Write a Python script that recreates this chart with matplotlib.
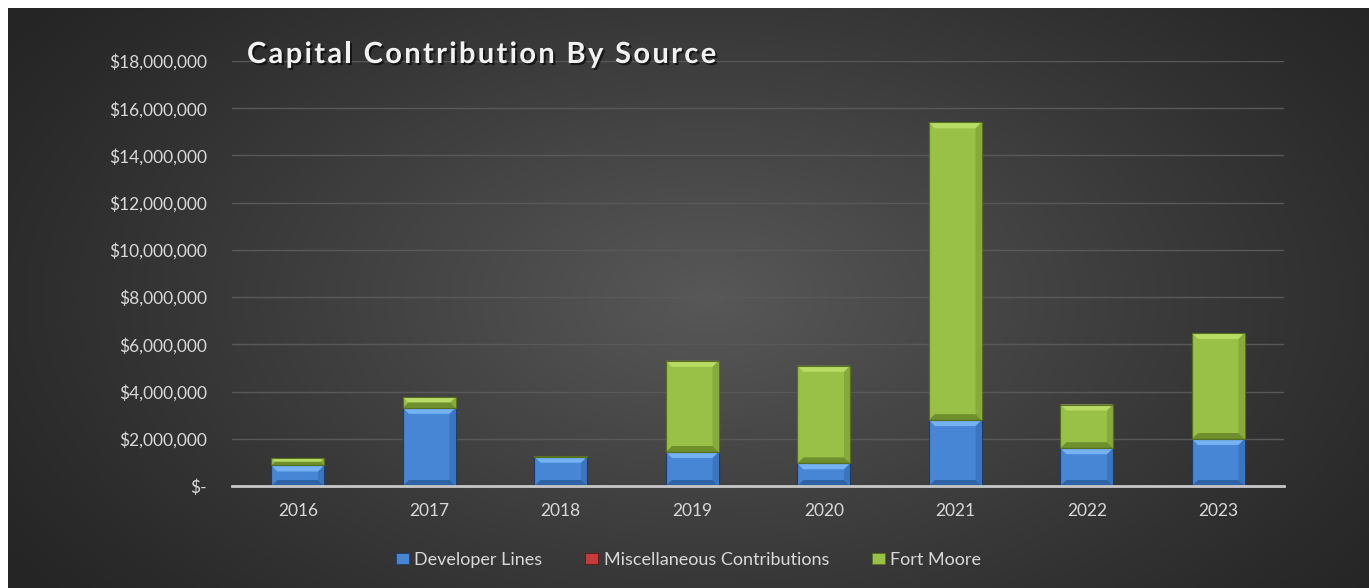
import matplotlib.pyplot as plt
import matplotlib.patheffects as pe
import numpy as np
from matplotlib.patches import Patch, Polygon
from matplotlib.ticker import FuncFormatter

# 各年度资本金来源 (美元)
years = ['2016', '2017', '2018', '2019', '2020', '2021', '2022', '2023']
developer_lines = [870000, 3310000, 1240000, 1440000, 960000, 2790000, 1600000, 1990000]
misc_contributions = [0, 0, 0, 0, 0, 0, 0, 0]
fort_moore = [310000, 450000, 30000, 3860000, 4130000, 12610000, 1850000, 4490000]

series_names = ['Developer Lines', 'Miscellaneous Contributions', 'Fort Moore']
series_data = [developer_lines, misc_contributions, fort_moore]
title = 'Capital Contribution By Source'
# face, light bevel, dark bevel, edge
palette = [
    ('#4785d5', '#74b2f2', '#2f63a6', '#1e3d6b'),
    ('#c43b3b', '#ee7070', '#8e2424', '#5e1515'),
    ('#99c147', '#b9dc66', '#6f8f2d', '#55701f'),
]

plt.rcParams['font.family'] = ['Lato', 'DejaVu Sans']

fig = plt.figure(figsize=(13.69, 5.88), dpi=100, facecolor='white')

# 径向渐变背景
bg = fig.add_axes([8 / 1369, 0, 1 - 8 / 1369, 1 - 8 / 588])
bg.set_axis_off()
h, w = 580, 1361
yy, xx = np.mgrid[0:h, 0:w]
r = np.sqrt(((xx - 700) / 820.0) ** 2 + ((yy - 290) / 470.0) ** 2)
t = np.clip(1 - r, 0, 1) ** 1.1
val = (0x26 + (0x58 - 0x26) * t) / 255.0
bg.imshow(np.dstack([val, val, val]), aspect='auto', extent=[0, 1, 0, 1], zorder=0)
bg.set_xlim(0, 1)
bg.set_ylim(0, 1)

ax = fig.add_axes([232 / 1369, 1 - 486 / 588, 1052 / 1369, 425 / 588])
ax.set_facecolor('none')

x = np.arange(len(years))
bar_w = 0.40
ax.set_xlim(-0.5, len(years) - 0.5)
ax.set_ylim(0, 18000000)
fig.canvas.draw()
renderer = fig.canvas.get_renderer()


def bevel_bar(x0, y0, width, height, colors):
    face, light, dark, edge = colors
    if height <= 0:
        return
    # 斜面宽度 (像素换算到数据坐标)
    p0 = ax.transData.transform((x0, y0))
    p1 = ax.transData.transform((x0 + width, y0 + height))
    px_h = p1[1] - p0[1]
    b = min(6.0, px_h / 2.0)
    inv = ax.transData.inverted()
    q = inv.transform((p0[0] + b, p0[1] + b))
    bx, by = q[0] - x0, q[1] - y0
    x1, y1 = x0 + width, y0 + height
    ax.add_patch(plt.Rectangle((x0, y0), width, height, facecolor=face,
                               edgecolor=edge, linewidth=0.8, zorder=3))
    ax.add_patch(Polygon([(x0, y1), (x1, y1), (x1 - bx, y1 - by), (x0 + bx, y1 - by)],
                         closed=True, facecolor=light, edgecolor='none', zorder=4))
    ax.add_patch(Polygon([(x0, y0), (x1, y0), (x1 - bx, y0 + by), (x0 + bx, y0 + by)],
                         closed=True, facecolor=dark, edgecolor='none', zorder=4))
    ax.add_patch(Polygon([(x1, y0), (x1 - bx, y0 + by), (x1 - bx, y1 - by), (x1, y1)],
                         closed=True, facecolor=dark, edgecolor='none', alpha=0.45, zorder=4))
    ax.add_patch(plt.Rectangle((x0, y0), width, height, facecolor='none',
                               edgecolor=edge, linewidth=0.8, zorder=5))


bottom = np.zeros(len(years))
for vals, colors in zip(series_data, palette):
    vals = np.array(vals, dtype=float)
    for xi, b0, v in zip(x, bottom, vals):
        bevel_bar(xi - bar_w / 2, b0, bar_w, v, colors)
    bottom += vals

ax.set_yticks(np.arange(0, 18000001, 2000000))
ax.yaxis.set_major_formatter(FuncFormatter(lambda v, p: '$-' if v == 0 else '${:,.0f}'.format(v)))
ax.set_xticks(x)
ax.set_xticklabels(years)
ax.grid(axis='y', color='#595959', linewidth=1.0, zorder=1)
ax.set_axisbelow(True)
for s in ['top', 'right', 'left']:
    ax.spines[s].set_visible(False)
ax.spines['bottom'].set_color('#c8c8c8')
ax.spines['bottom'].set_linewidth(2.0)
ax.spines['bottom'].set_zorder(6)
ax.tick_params(axis='both', length=0, colors='#d9d9d9', labelsize=12.5)
ax.tick_params(axis='y', pad=18)
ax.tick_params(axis='x', pad=12)

# 标题: 逐字排布以加大字距
title_kw = dict(fontsize=21, fontweight='bold', color='#f2f2f2', va='center', ha='left',
                path_effects=[pe.SimplePatchShadow(offset=(1.5, -1.5), shadow_rgbFace='black', alpha=0.6),
                              pe.Normal()])
tracking = 2.3
x_px = 247.0
y_fig = 1 - 55 / 588
probe = fig.text(0, 0, 'x', **title_kw)
wx = probe.get_window_extent(renderer).width
probe.remove()
for i, ch in enumerate(title):
    prefix = title[:i] + 'x'
    tmp = fig.text(0, 0, prefix, **title_kw)
    adv = tmp.get_window_extent(renderer).width - wx
    tmp.remove()
    fig.text((x_px + adv + i * tracking) / 1369, y_fig, ch, **title_kw)

handles = [Patch(facecolor=c[0], edgecolor=c[3], linewidth=0.6) for c in palette]
leg = fig.legend(handles, series_names, loc='center', bbox_to_anchor=(0.503, 1 - 560 / 588),
                 ncol=3, frameon=False, fontsize=13, labelcolor='#d9d9d9',
                 handlelength=0.7, handleheight=0.6, handletextpad=0.3, columnspacing=2.4)

fig.savefig('out.png', dpi=100, facecolor='white')
